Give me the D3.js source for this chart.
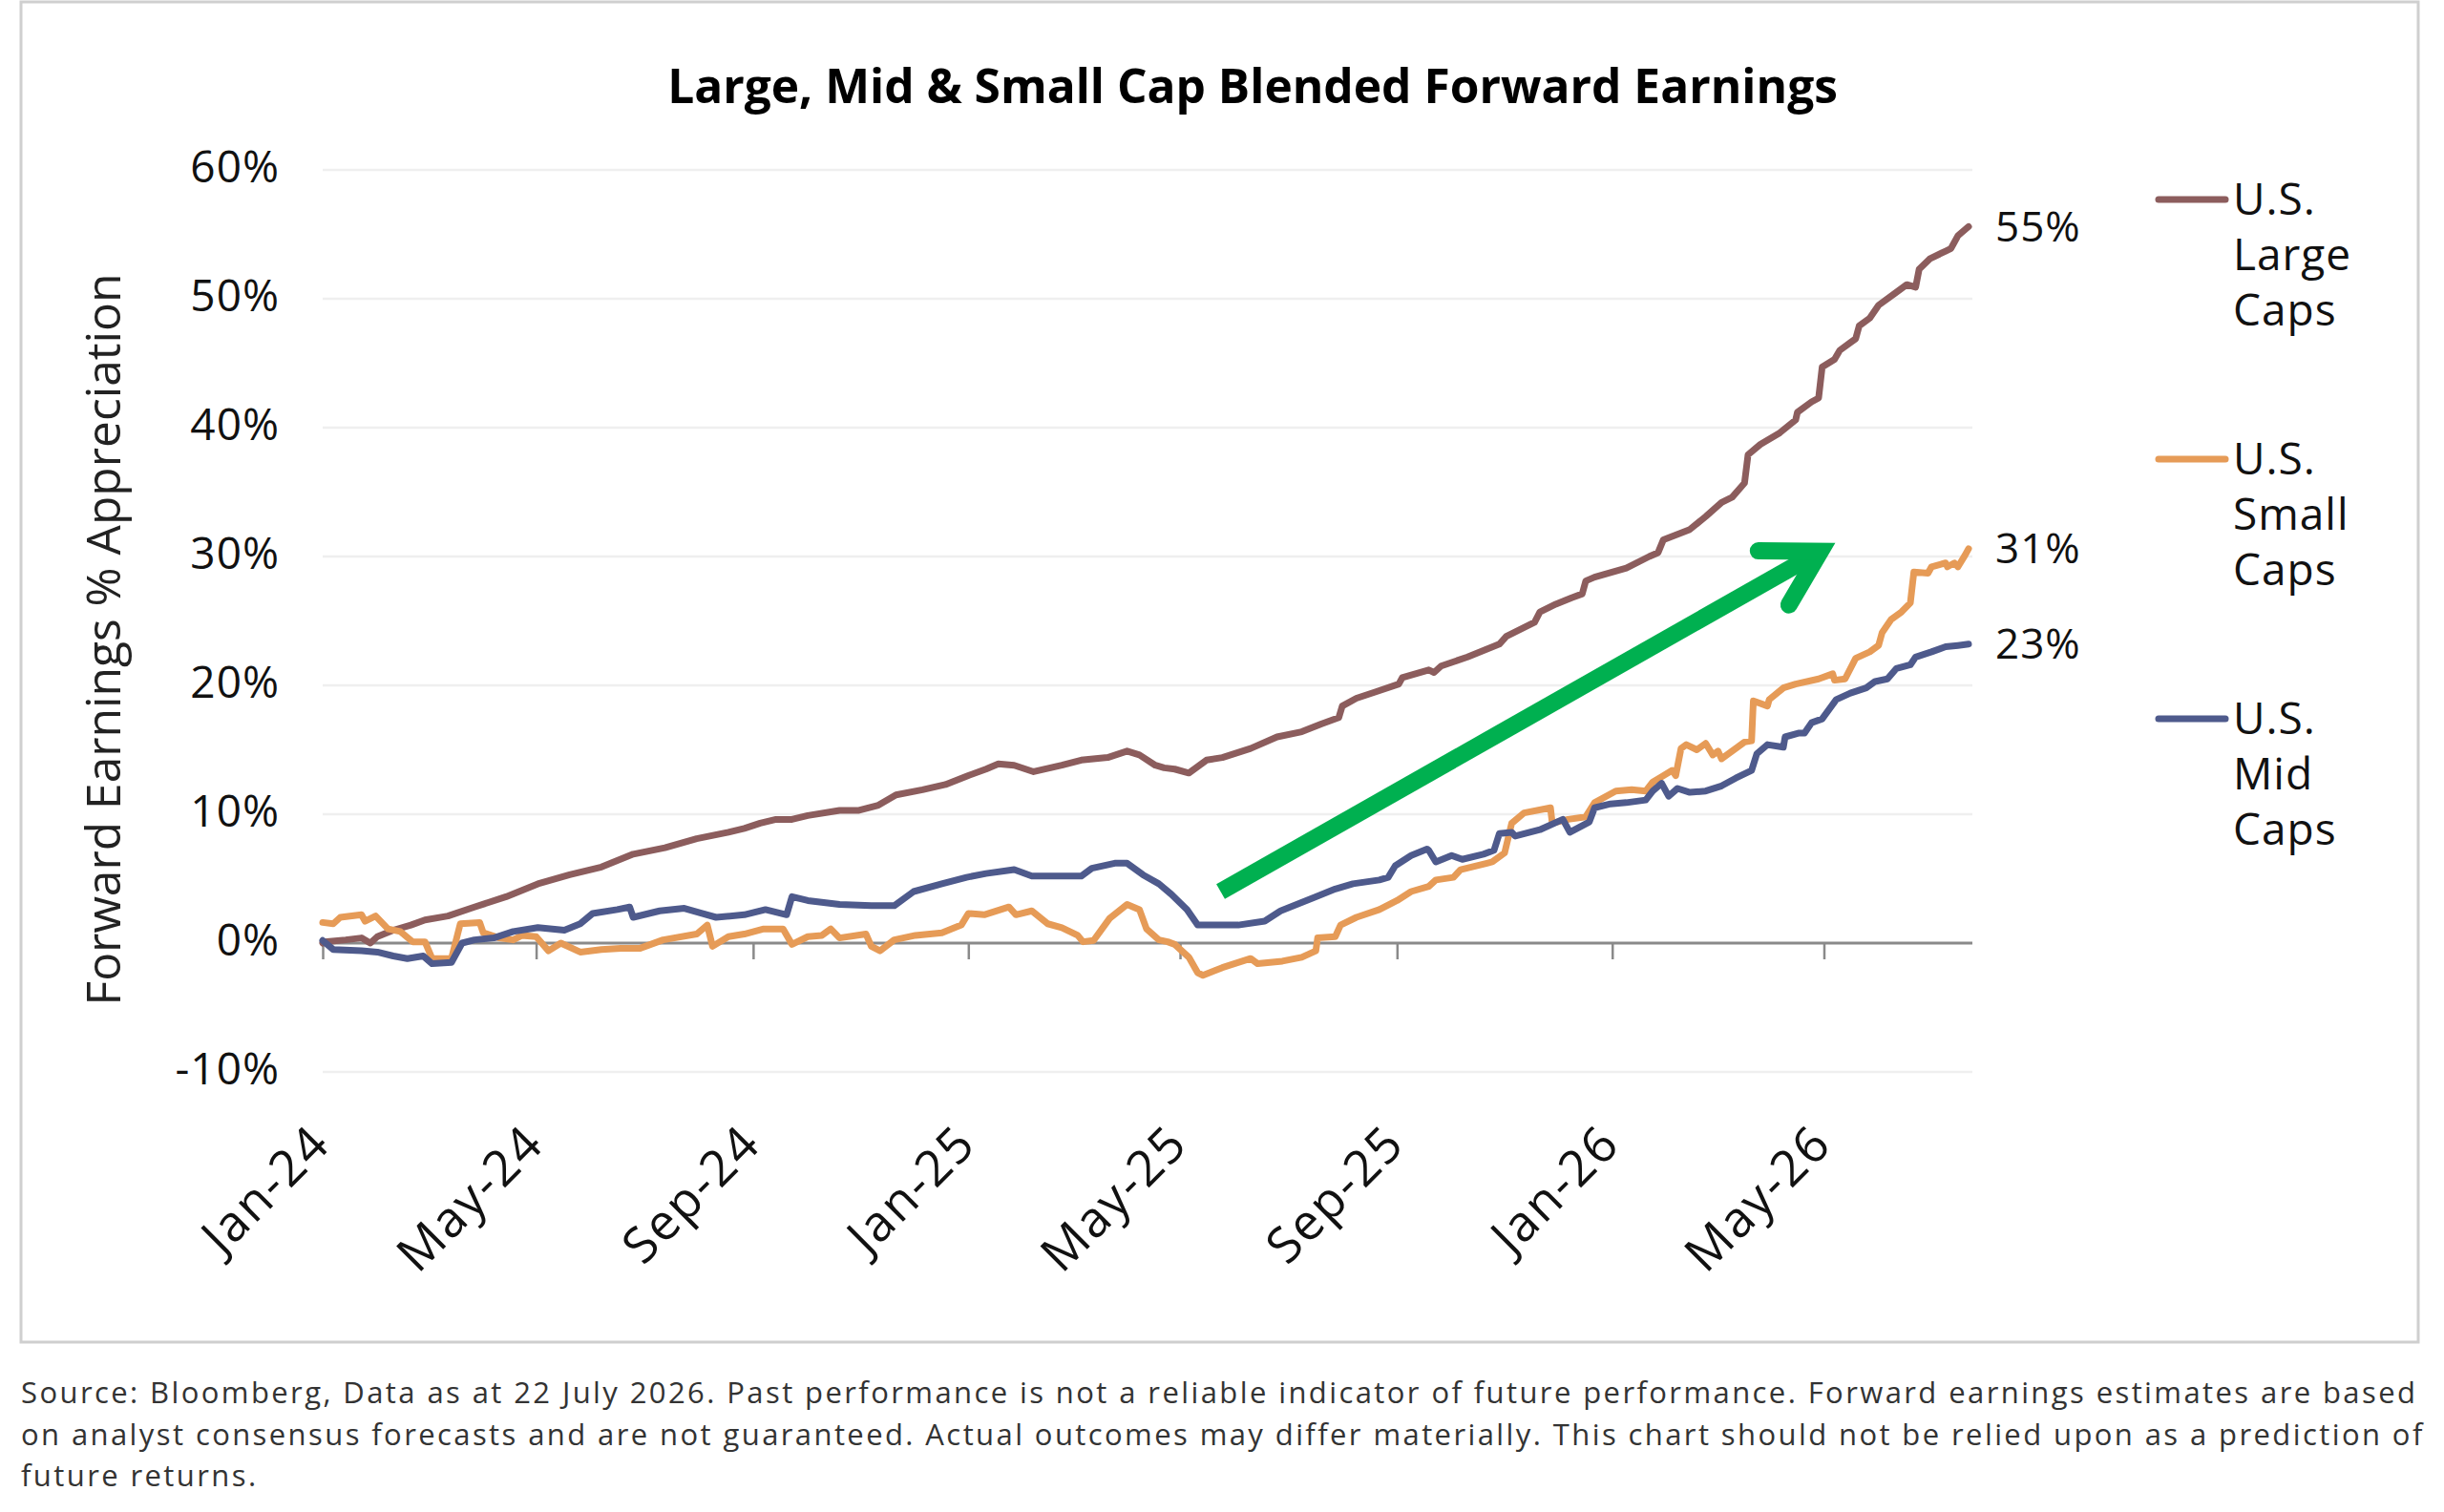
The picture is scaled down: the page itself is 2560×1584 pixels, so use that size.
<!DOCTYPE html>
<html>
<head>
<meta charset="utf-8">
<script src="https://cdn.jsdelivr.net/npm/d3@7"></script>
<style>
  html, body { margin: 0; padding: 0; background: #fff; }
  svg { display: block; font-family: 'Open Sans', sans-serif; }
</style>
</head>
<body>
<svg id="chart" width="2560" height="1584"></svg>
<script>
// values, % change since Jan-24
const largeCaps = [
  ['2024-01-01', 0.0], ['2024-01-02', 0.1], ['2024-01-14', 0.25], ['2024-01-23', 0.4], ['2024-01-28', 0.0],
  ['2024-02-01', 0.5], ['2024-02-10', 1.0], ['2024-02-20', 1.4], ['2024-02-28', 1.8], ['2024-03-12', 2.1],
  ['2024-03-27', 2.8], ['2024-04-14', 3.6], ['2024-05-02', 4.6], ['2024-05-20', 5.3], ['2024-06-07', 5.9],
  ['2024-06-25', 6.9], ['2024-07-13', 7.4], ['2024-07-31', 8.1], ['2024-08-18', 8.6], ['2024-08-27', 8.9],
  ['2024-09-05', 9.3], ['2024-09-14', 9.6], ['2024-09-23', 9.6], ['2024-10-02', 9.9], ['2024-10-20', 10.3],
  ['2024-10-31', 10.3], ['2024-11-11', 10.7], ['2024-11-21', 11.5], ['2024-12-06', 11.9], ['2024-12-19', 12.3],
  ['2025-01-01', 13.0], ['2025-01-11', 13.5], ['2025-01-18', 13.9], ['2025-01-27', 13.8], ['2025-02-07', 13.3],
  ['2025-02-23', 13.8], ['2025-03-06', 14.2], ['2025-03-21', 14.4], ['2025-04-01', 14.9], ['2025-04-08', 14.6],
  ['2025-04-17', 13.8], ['2025-04-22', 13.6], ['2025-04-28', 13.5], ['2025-05-06', 13.2], ['2025-05-16', 14.2],
  ['2025-05-25', 14.4], ['2025-06-10', 15.1], ['2025-06-25', 16.0], ['2025-07-09', 16.4], ['2025-07-20', 17.0],
  ['2025-07-30', 17.5], ['2025-08-01', 18.4], ['2025-08-09', 19.0], ['2025-08-20', 19.5], ['2025-09-02', 20.1],
  ['2025-09-04', 20.6], ['2025-09-19', 21.2], ['2025-09-22', 21.0], ['2025-09-26', 21.5], ['2025-10-11', 22.2],
  ['2025-10-29', 23.2], ['2025-11-02', 23.8], ['2025-11-18', 24.9], ['2025-11-21', 25.7], ['2025-11-30', 26.3],
  ['2025-12-09', 26.8], ['2025-12-15', 27.1], ['2025-12-17', 28.1], ['2025-12-22', 28.4], ['2026-01-09', 29.1],
  ['2026-01-22', 30.0], ['2026-01-27', 30.3], ['2026-01-30', 31.3], ['2026-02-14', 32.1], ['2026-02-23', 33.1],
  ['2026-03-04', 34.2], ['2026-03-10', 34.6], ['2026-03-17', 35.7], ['2026-03-19', 37.9], ['2026-03-26', 38.7],
  ['2026-04-06', 39.6], ['2026-04-15', 40.6], ['2026-04-16', 41.2], ['2026-04-24', 42.0], ['2026-04-28', 42.3],
  ['2026-04-30', 44.7], ['2026-05-07', 45.3], ['2026-05-10', 46.0], ['2026-05-16', 46.6], ['2026-05-19', 46.9],
  ['2026-05-21', 47.9], ['2026-05-27', 48.5], ['2026-06-01', 49.5], ['2026-06-10', 50.4], ['2026-06-17', 51.1],
  ['2026-06-22', 50.9], ['2026-06-24', 52.3], ['2026-06-30', 53.1], ['2026-07-09', 53.7], ['2026-07-12', 53.9],
  ['2026-07-16', 54.9], ['2026-07-22', 55.6]
];

const smallCaps = [
  ['2024-01-01', 1.6], ['2024-01-07', 1.5], ['2024-01-11', 2.0], ['2024-01-23', 2.2], ['2024-01-25', 1.7],
  ['2024-01-31', 2.1], ['2024-02-07', 1.1], ['2024-02-14', 0.9], ['2024-02-21', 0.1], ['2024-02-28', 0.1],
  ['2024-03-03', -1.2], ['2024-03-14', -1.2], ['2024-03-19', 1.5], ['2024-03-30', 1.6], ['2024-04-01', 0.8],
  ['2024-04-10', 0.4], ['2024-04-18', 0.25], ['2024-04-23', 0.6], ['2024-05-01', 0.5], ['2024-05-08', -0.6],
  ['2024-05-15', 0.0], ['2024-05-26', -0.7], ['2024-06-07', -0.5], ['2024-06-18', -0.4], ['2024-06-29', -0.4],
  ['2024-07-12', 0.25], ['2024-07-31', 0.7], ['2024-08-06', 1.4], ['2024-08-09', -0.25], ['2024-08-18', 0.5],
  ['2024-08-27', 0.7], ['2024-09-07', 1.1], ['2024-09-18', 1.1], ['2024-09-23', -0.1], ['2024-10-02', 0.5],
  ['2024-10-10', 0.6], ['2024-10-15', 1.1], ['2024-10-20', 0.4], ['2024-11-04', 0.7], ['2024-11-07', -0.25],
  ['2024-11-12', -0.6], ['2024-11-20', 0.25], ['2024-12-02', 0.6], ['2024-12-17', 0.8], ['2024-12-28', 1.4],
  ['2025-01-01', 2.3], ['2025-01-10', 2.2], ['2025-01-24', 2.8], ['2025-01-28', 2.2], ['2025-02-06', 2.5],
  ['2025-02-15', 1.5], ['2025-02-23', 1.2], ['2025-03-04', 0.6], ['2025-03-07', 0.1], ['2025-03-13', 0.2],
  ['2025-03-22', 1.9], ['2025-04-01', 3.0], ['2025-04-08', 2.6], ['2025-04-12', 1.1], ['2025-04-19', 0.25],
  ['2025-04-24', 0.1], ['2025-04-28', -0.1], ['2025-05-06', -1.1], ['2025-05-11', -2.3], ['2025-05-14', -2.5],
  ['2025-05-25', -1.9], ['2025-06-10', -1.2], ['2025-06-14', -1.6], ['2025-06-28', -1.4], ['2025-07-09', -1.1],
  ['2025-07-17', -0.6], ['2025-07-18', 0.4], ['2025-07-28', 0.5], ['2025-07-31', 1.4], ['2025-08-09', 2.0],
  ['2025-08-22', 2.6], ['2025-09-01', 3.3], ['2025-09-09', 4.0], ['2025-09-19', 4.4], ['2025-09-23', 4.9],
  ['2025-10-03', 5.1], ['2025-10-07', 5.7], ['2025-10-22', 6.2], ['2025-10-25', 6.3], ['2025-11-01', 7.0],
  ['2025-11-05', 9.3], ['2025-11-12', 10.1], ['2025-11-27', 10.5], ['2025-11-28', 9.3], ['2025-12-07', 9.6],
  ['2025-12-17', 9.8], ['2025-12-22', 10.9], ['2026-01-03', 11.8], ['2026-01-12', 11.9], ['2026-01-20', 11.8],
  ['2026-01-24', 12.5], ['2026-01-29', 12.9], ['2026-02-04', 13.4], ['2026-02-06', 13.0], ['2026-02-09', 15.1],
  ['2026-02-12', 15.4], ['2026-02-18', 15.0], ['2026-02-23', 15.5], ['2026-02-27', 14.6], ['2026-03-02', 14.9],
  ['2026-03-04', 14.3], ['2026-03-12', 15.1], ['2026-03-17', 15.6], ['2026-03-21', 15.7], ['2026-03-22', 18.8],
  ['2026-03-30', 18.4], ['2026-03-31', 18.9], ['2026-04-08', 19.8], ['2026-04-15', 20.1], ['2026-04-28', 20.5],
  ['2026-05-06', 20.9], ['2026-05-07', 20.4], ['2026-05-13', 20.5], ['2026-05-19', 22.1], ['2026-05-27', 22.6],
  ['2026-06-01', 23.1], ['2026-06-03', 24.1], ['2026-06-08', 25.1], ['2026-06-14', 25.7], ['2026-06-19', 26.4],
  ['2026-06-21', 28.8], ['2026-06-29', 28.7], ['2026-07-01', 29.2], ['2026-07-09', 29.5], ['2026-07-10', 29.2],
  ['2026-07-14', 29.5], ['2026-07-16', 29.2], ['2026-07-20', 30.1], ['2026-07-22', 30.6]
];

const midCaps = [
  ['2024-01-01', 0.2], ['2024-01-07', -0.5], ['2024-01-23', -0.6], ['2024-02-01', -0.7], ['2024-02-10', -1.0],
  ['2024-02-18', -1.2], ['2024-02-27', -1.0], ['2024-03-03', -1.6], ['2024-03-14', -1.5], ['2024-03-20', 0.0],
  ['2024-03-27', 0.25], ['2024-04-07', 0.4], ['2024-04-18', 0.9], ['2024-05-02', 1.2], ['2024-05-17', 1.0],
  ['2024-05-26', 1.5], ['2024-06-02', 2.3], ['2024-06-16', 2.6], ['2024-06-23', 2.8], ['2024-06-25', 2.0],
  ['2024-07-10', 2.5], ['2024-07-24', 2.7], ['2024-08-03', 2.3], ['2024-08-11', 2.0], ['2024-08-27', 2.2],
  ['2024-09-08', 2.6], ['2024-09-20', 2.2], ['2024-09-23', 3.6], ['2024-10-02', 3.3], ['2024-10-20', 3.0],
  ['2024-11-07', 2.9], ['2024-11-20', 2.9], ['2024-12-01', 4.0], ['2024-12-17', 4.6], ['2024-12-31', 5.1],
  ['2025-01-11', 5.4], ['2025-01-27', 5.7], ['2025-02-06', 5.2], ['2025-02-23', 5.2], ['2025-03-06', 5.2],
  ['2025-03-12', 5.8], ['2025-03-25', 6.2], ['2025-04-01', 6.2], ['2025-04-10', 5.3], ['2025-04-19', 4.6],
  ['2025-04-26', 3.8], ['2025-05-05', 2.6], ['2025-05-11', 1.4], ['2025-05-25', 1.4], ['2025-06-03', 1.4],
  ['2025-06-18', 1.7], ['2025-06-27', 2.5], ['2025-07-17', 3.6], ['2025-07-28', 4.2], ['2025-08-07', 4.6],
  ['2025-08-22', 4.9], ['2025-08-27', 5.1], ['2025-08-31', 6.0], ['2025-09-09', 6.8], ['2025-09-18', 7.3],
  ['2025-09-19', 7.2], ['2025-09-23', 6.3], ['2025-10-02', 6.8], ['2025-10-08', 6.5], ['2025-10-20', 6.9],
  ['2025-10-26', 7.2], ['2025-10-29', 8.5], ['2025-11-05', 8.6], ['2025-11-07', 8.3], ['2025-11-21', 8.8],
  ['2025-12-04', 9.6], ['2025-12-08', 8.6], ['2025-12-19', 9.4], ['2025-12-22', 10.5], ['2025-12-31', 10.8],
  ['2026-01-09', 10.9], ['2026-01-20', 11.1], ['2026-01-24', 11.8], ['2026-01-29', 12.4], ['2026-02-02', 11.4],
  ['2026-02-07', 12.0], ['2026-02-14', 11.7], ['2026-02-23', 11.8], ['2026-03-04', 12.2], ['2026-03-12', 12.8],
  ['2026-03-21', 13.4], ['2026-03-24', 14.7], ['2026-03-30', 15.4], ['2026-04-08', 15.2], ['2026-04-09', 16.0],
  ['2026-04-17', 16.3], ['2026-04-20', 16.3], ['2026-04-24', 17.1], ['2026-04-30', 17.4], ['2026-05-08', 18.9],
  ['2026-05-16', 19.4], ['2026-05-25', 19.8], ['2026-05-30', 20.3], ['2026-06-06', 20.5], ['2026-06-11', 21.3],
  ['2026-06-19', 21.6], ['2026-06-22', 22.2], ['2026-07-01', 22.6], ['2026-07-09', 23.0], ['2026-07-16', 23.1],
  ['2026-07-22', 23.2]
];

const seriesData = [largeCaps, smallCaps, midCaps];
const legendLines = [['U.S.', 'Large', 'Caps'], ['U.S.', 'Small', 'Caps'], ['U.S.', 'Mid', 'Caps']];
const seriesColors = ['#8c5d5d', '#e69b57', '#4e5a8c'];
const endLabels = ['55%', '31%', '23%'];
const yTicks = [-10, 0, 10, 20, 30, 40, 50, 60];
const xTicks = ['2024-01-01', '2024-05-01', '2024-09-01', '2025-01-01', '2025-05-01', '2025-09-01', '2026-01-01', '2026-05-01'];
const arrowFrom = ['2025-05-24', 4.0];
const arrowTo = ['2026-04-29', 30.4];

const titleText = 'Large, Mid & Small Cap Blended Forward Earnings';
const yTitleText = 'Forward Earnings % Appreciation';
const footnote = [
  'Source: Bloomberg, Data as at 22 July 2026. Past performance is not a reliable indicator of future performance. Forward earnings estimates are based',
  'on analyst consensus forecasts and are not guaranteed. Actual outcomes may differ materially. This chart should not be relied upon as a prediction of',
  'future returns.'
];

const parse = d3.timeParse('%Y-%m-%d');
const svg = d3.select('#chart');

// scale text so it spans a given width
function fitWidth(sel, target) {
  const w = sel.node().getComputedTextLength();
  const fs = parseFloat(sel.attr('font-size'));
  sel.attr('font-size', (fs * target / w).toFixed(2));
  return +sel.attr('font-size');
}

svg.append('rect').attr('width', 2560).attr('height', 1584).attr('fill', '#fff');
svg.append('rect')
  .attr('x', 22).attr('y', 2).attr('width', 2511).attr('height', 1404)
  .attr('fill', 'none').attr('stroke', '#cfcfcf').attr('stroke-width', 3);

const x = d3.scaleTime()
  .domain([parse('2024-01-01'), parse('2026-07-22')])
  .range([338, 2062]);

const y = d3.scaleLinear()
  .domain([-10, 60])
  .range([1123, 178]);

// gridlines
svg.append('g')
  .selectAll('line')
  .data(yTicks.filter(d => d !== 0))
  .join('line')
  .attr('x1', 338).attr('x2', 2066)
  .attr('y1', d => y(d)).attr('y2', d => y(d))
  .attr('stroke', '#efefef').attr('stroke-width', 2.5);

// y axis labels
const yAxis = svg.append('g')
  .attr('transform', 'translate(338,0)')
  .call(d3.axisLeft(y).tickValues(yTicks).tickSize(0).tickPadding(45).tickFormat(d => d + '%'));
yAxis.select('.domain').remove();
yAxis.selectAll('text')
  .attr('font-size', 46).attr('font-family', "'Open Sans', sans-serif")
  .attr('letter-spacing', 1)
  .attr('fill', '#111').attr('dy', '0.27em');

// x axis on the zero line
const xAxis = svg.append('g')
  .attr('transform', `translate(0,${y(0)})`)
  .call(d3.axisBottom(x).tickValues(xTicks.map(parse)).tickSize(17).tickFormat(d3.timeFormat('%b-%y')));
xAxis.select('.domain')
  .attr('d', `M338,0H2066`)
  .attr('stroke', '#8a8a8a').attr('stroke-width', 3);
xAxis.selectAll('.tick line').attr('stroke', '#8a8a8a').attr('stroke-width', 2.5);
xAxis.selectAll('.tick text')
  .attr('font-size', 52).attr('font-family', "'Open Sans', sans-serif")
  .attr('letter-spacing', 2)
  .attr('fill', '#111')
  .attr('text-anchor', 'end')
  .attr('y', 0).attr('dy', 0)
  .attr('transform', `translate(10,${1201 - y(0)}) rotate(-45)`);

// series lines
const line = d3.line()
  .x(d => x(parse(d[0])))
  .y(d => y(d[1]))
  .curve(d3.curveLinear);

svg.append('g')
  .selectAll('path')
  .data(seriesData)
  .join('path')
  .attr('d', line)
  .attr('fill', 'none')
  .attr('stroke', (d, i) => seriesColors[i])
  .attr('stroke-width', 7)
  .attr('stroke-linejoin', 'round')
  .attr('stroke-linecap', 'round');

// end-of-line value labels
svg.append('g')
  .selectAll('text')
  .data(seriesData)
  .join('text')
  .attr('x', d => x(parse(d[d.length - 1][0])) + 28)
  .attr('y', d => y(d[d.length - 1][1]))
  .attr('dy', '0.35em')
  .attr('font-size', 44)
  .attr('letter-spacing', 1)
  .attr('fill', '#111')
  .text((d, i) => endLabels[i]);

// green arrow annotation
const ax0 = x(parse(arrowFrom[0])), ay0 = y(arrowFrom[1]);
const ax1 = x(parse(arrowTo[0])), ay1 = y(arrowTo[1]);
const ang = Math.atan2(ay0 - ay1, ax0 - ax1);
const armLen = 65, spread = Math.PI / 6;
const green = '#00b050';
svg.append('line')
  .attr('x1', ax0).attr('y1', ay0).attr('x2', ax1).attr('y2', ay1)
  .attr('stroke', green).attr('stroke-width', 18);
svg.append('path')
  .attr('d', d3.line()([
    [ax1 + armLen * Math.cos(ang + spread), ay1 + armLen * Math.sin(ang + spread)],
    [ax1, ay1],
    [ax1 + armLen * Math.cos(ang - spread), ay1 + armLen * Math.sin(ang - spread)]
  ]))
  .attr('fill', 'none').attr('stroke', green).attr('stroke-width', 18)
  .attr('stroke-linejoin', 'miter').attr('stroke-miterlimit', 10)
  .attr('stroke-linecap', 'round');

// legend
const legend = svg.append('g')
  .selectAll('g')
  .data(legendLines)
  .join('g')
  .attr('transform', (d, i) => `translate(0,${209 + i * 272})`);
legend.append('line')
  .attr('x1', 2261).attr('x2', 2331)
  .attr('stroke', (d, i) => seriesColors[i])
  .attr('stroke-width', 7).attr('stroke-linecap', 'round');
legend.append('text')
  .attr('font-size', 46).attr('fill', '#111')
  .attr('letter-spacing', 1)
  .selectAll('tspan')
  .data(d => d)
  .join('tspan')
  .attr('x', 2339)
  .attr('y', (d, i) => 16 + i * 58)
  .text(d => d);

// title
const title = svg.append('text')
  .attr('x', 1312).attr('y', 108)
  .attr('text-anchor', 'middle')
  .attr('font-size', 44).attr('font-weight', 700).attr('fill', '#000')
  .text(titleText);
fitWidth(title, 1226);

// y axis title
const yTitle = svg.append('text')
  .attr('transform', 'translate(126,670) rotate(-90)')
  .attr('text-anchor', 'middle')
  .attr('font-size', 44).attr('fill', '#222')
  .text(yTitleText);
fitWidth(yTitle, 767);

// footnote: fixed size, spread with letter-spacing to the reference width
const footSize = 31;
const foot = svg.append('g')
  .selectAll('text')
  .data(footnote)
  .join('text')
  .attr('x', 22)
  .attr('y', (d, i) => 1470 + i * 43.5)
  .attr('font-size', footSize).attr('fill', '#333')
  .text(d => d);
const firstNode = foot.nodes()[0];
const spread0 = (2508 - firstNode.getComputedTextLength()) / (footnote[0].length - 1);
foot.attr('letter-spacing', Math.max(0, spread0).toFixed(3));
</script>
</body>
</html>
